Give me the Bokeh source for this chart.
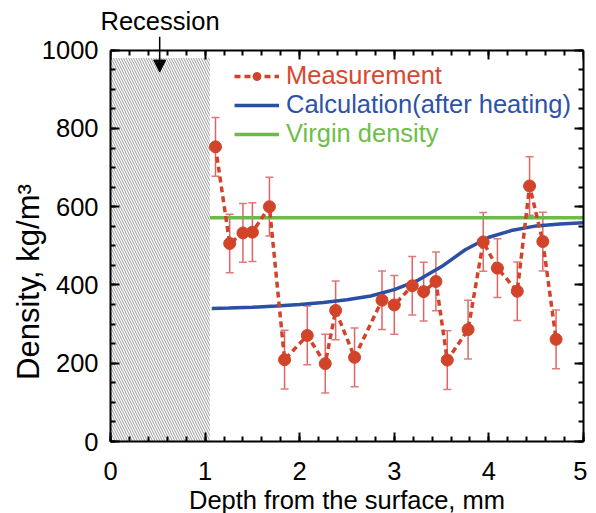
from bokeh.plotting import figure
from bokeh.models import (LinearAxis, Range1d, Legend, LegendItem, Whisker, ColumnDataSource,
                          Arrow, NormalHead, TeeHead, SingleIntervalTicker)
from bokeh.embed import file_html
from bokeh.resources import INLINE

# ---- data ----
depth = [1.11, 1.26, 1.40, 1.50, 1.68, 1.84, 2.08, 2.27, 2.38, 2.58, 2.87, 3.00,
         3.19, 3.31, 3.44, 3.56, 3.78, 3.94, 4.09, 4.30, 4.43, 4.57, 4.71]
density = [753, 506, 533, 535, 600, 209, 271, 199, 335, 215, 361, 349,
           398, 383, 409, 208, 286, 510, 443, 384, 653, 511, 261]
density_err = [75] * len(depth)

calc_depth = [1.07, 1.25, 1.5, 1.75, 2.0, 2.25, 2.5, 2.75, 3.0, 3.25, 3.5, 3.75,
              4.0, 4.25, 4.5, 4.75, 5.0]
calc_density = [340, 341, 343, 346, 350, 355, 362, 372, 388, 412, 447, 490,
                522, 540, 551, 556, 559]

virgin_depth = [1.05, 5.0]
virgin_density = [572, 572]

recession_left = [0.0]
recession_right = [1.05]
recession_top = [980]
recession_bottom = [0]
arrow_x = 0.52
arrow_y_start = 1035
arrow_y_end = 944

x_lim = (0, 5)
y_lim = (0, 1000)
y_view_top = 1035   # room above the axes box for the arrow

RED = "#d24429"
BLUE = "#2a4fa5"
GREEN = "#6cba47"
FONT = "Liberation Sans"

p = figure(width=587, frame_height=405,
           x_range=Range1d(*x_lim), y_range=Range1d(y_lim[0], y_view_top),
           output_backend="svg", toolbar_location=None,
           min_border_left=110, min_border_top=36, min_border_right=4, min_border_bottom=0,
           title="Recession")
p.xgrid.visible = False
p.ygrid.visible = False
p.outline_line_color = None

p.title.align = "left"
p.title.offset = -10
p.title.standoff = 3
p.title.text_font = FONT
p.title.text_font_size = "25.5px"
p.title.text_font_style = "normal"
p.title.text_color = "black"


def style_axis(ax, labels=True):
    ax.axis_line_color = "black"
    ax.axis_line_width = 2
    ax.major_tick_in = 9
    ax.major_tick_out = 0
    ax.minor_tick_in = 5
    ax.minor_tick_out = 0
    ax.major_tick_line_width = 2
    ax.minor_tick_line_width = 2
    ax.major_tick_line_color = "black"
    ax.minor_tick_line_color = "black"
    if labels:
        ax.major_label_text_font = FONT
        ax.major_label_text_font_size = "25.5px"
        ax.major_label_text_color = "black"
        ax.axis_label_text_font = FONT
        ax.axis_label_text_font_style = "normal"
        ax.axis_label_text_color = "black"
    else:
        ax.major_label_text_font_size = "1px"
        ax.major_label_text_color = None
        ax.major_label_standoff = 0


xa = p.xaxis[0]
xa.ticker = SingleIntervalTicker(interval=1, num_minor_ticks=5)
xa.axis_label = "Depth from the surface, mm"
style_axis(xa)
xa.axis_label_text_font_size = "25.5px"
xa.major_label_standoff = 20
xa.axis_label_standoff = 3

ya = p.yaxis[0]
ya.ticker = SingleIntervalTicker(interval=200, num_minor_ticks=4)
ya.bounds = y_lim
ya.axis_label = "Density, kg/m³" + "\u00a0" * 10
style_axis(ya)
ya.axis_label_text_font_size = "31px"
ya.major_label_standoff = 12
ya.axis_label_standoff = -7

top = LinearAxis(ticker=SingleIntervalTicker(interval=1, num_minor_ticks=5),
                 fixed_location=y_lim[1])
style_axis(top, labels=False)
p.add_layout(top, "above")

right = LinearAxis(ticker=SingleIntervalTicker(interval=200, num_minor_ticks=4),
                   bounds=y_lim)
style_axis(right, labels=False)
p.add_layout(right, "right")

# recession hatch
p.quad(left=recession_left, right=recession_right, bottom=recession_bottom, top=recession_top,
       fill_color=None, line_color=None, hatch_pattern="\\", hatch_color="#9a9a9a",
       hatch_scale=5, hatch_weight=1)

virgin_r = p.line(virgin_depth, virgin_density, line_color=GREEN, line_width=3.5)
calc_r = p.line(calc_depth, calc_density, line_color=BLUE, line_width=3.5)

src = ColumnDataSource(dict(x=depth, y=density,
                            upper=[d + e for d, e in zip(density, density_err)],
                            lower=[d - e for d, e in zip(density, density_err)]))
meas_line = p.line("x", "y", source=src, line_color=RED, line_width=3.5, line_dash="6 4")
wh = Whisker(source=src, base="x", upper="upper", lower="lower",
             line_color="#d94a4a", line_width=1.5, line_alpha=0.85,
             upper_head=TeeHead(size=8, line_color="#e07a7a", line_width=1.5),
             lower_head=TeeHead(size=8, line_color="#e07a7a", line_width=1.5))
p.add_layout(wh)
meas_pts = p.scatter("x", "y", source=src, size=12, fill_color=RED, line_color=RED)


def add_legend(label, renderers, color, y):
    lg = Legend(items=[LegendItem(label=label, renderers=renderers)], location=(124, y),
                glyph_width=45, glyph_height=20, label_standoff=7, padding=0, margin=0,
                spacing=0, label_height=29, border_line_color=None,
                background_fill_alpha=0, label_text_color=color,
                label_text_font=FONT, label_text_font_size="25.5px")
    p.add_layout(lg)


add_legend("Measurement", [meas_line, meas_pts], "#d9472f", 351)
add_legend("Calculation(after heating)", [calc_r], "#2d52a8", 322)
add_legend("Virgin density", [virgin_r], "#6fbe4a", 293)

p.add_layout(Arrow(end=NormalHead(size=12, fill_color="black", line_color="black"),
                   x_start=arrow_x, y_start=arrow_y_start, x_end=arrow_x, y_end=arrow_y_end,
                   line_color="black", line_width=1.5))

open("out.html", "w").write(file_html(p, INLINE))
